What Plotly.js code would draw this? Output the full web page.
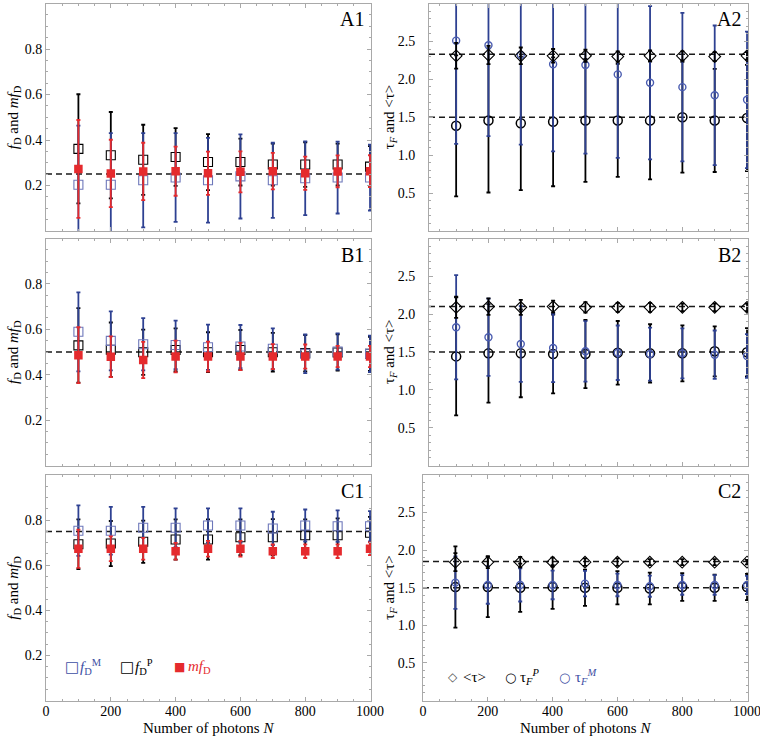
<!DOCTYPE html>
<html>
<head>
<meta charset="utf-8">
<script src="https://cdn.plot.ly/plotly-3.0.1.min.js"></script>
<style>html,body{margin:0;padding:0;background:#fff;}</style>
</head>
<body>
<div id="chart" style="width:760px;height:741px;"></div>
<script>
// ---------- data ----------
const N = [100, 200, 300, 400, 500, 600, 700, 800, 900, 1000];
const xTickLabels = ['0', '200', '400', '600', '800', '1000'];

// Panel A1 (fD)
const fDM_A = [0.203, 0.203, 0.223, 0.235, 0.223, 0.240, 0.223, 0.232, 0.235, 0.235];
const fDM_A_err = [0.260, 0.227, 0.207, 0.195, 0.186, 0.185, 0.165, 0.162, 0.158, 0.145];
const fDP_A = [0.361, 0.333, 0.313, 0.325, 0.303, 0.303, 0.292, 0.292, 0.292, 0.283];
const fDP_A_err = [0.240, 0.190, 0.154, 0.127, 0.123, 0.103, 0.092, 0.098, 0.092, 0.090];
const mfD_A = [0.273, 0.253, 0.262, 0.263, 0.254, 0.260, 0.263, 0.254, 0.262, 0.263];
const mfD_A_err = [0.215, 0.148, 0.126, 0.108, 0.095, 0.090, 0.080, 0.073, 0.070, 0.070];

// Panel B1
const fDM_B = [0.589, 0.549, 0.534, 0.531, 0.521, 0.524, 0.514, 0.492, 0.502, 0.492];
const fDM_B_err = [0.174, 0.130, 0.115, 0.107, 0.100, 0.095, 0.090, 0.085, 0.080, 0.080];
const fDP_B = [0.529, 0.510, 0.499, 0.509, 0.499, 0.509, 0.499, 0.495, 0.498, 0.492];
const fDP_B_err = [0.164, 0.120, 0.100, 0.095, 0.088, 0.088, 0.085, 0.080, 0.080, 0.075];
const mfD_B = [0.486, 0.479, 0.465, 0.480, 0.480, 0.480, 0.480, 0.480, 0.480, 0.480];
const mfD_B_err = [0.123, 0.090, 0.080, 0.070, 0.066, 0.060, 0.055, 0.053, 0.047, 0.047];

// Panel C1
const fDM_C = [0.753, 0.753, 0.766, 0.766, 0.776, 0.776, 0.763, 0.776, 0.773, 0.773];
const fDM_C_err = [0.112, 0.106, 0.093, 0.086, 0.076, 0.076, 0.074, 0.071, 0.070, 0.067];
const fDP_C = [0.693, 0.696, 0.704, 0.714, 0.714, 0.724, 0.724, 0.733, 0.733, 0.744];
const fDP_C_err = [0.110, 0.100, 0.094, 0.089, 0.089, 0.079, 0.080, 0.070, 0.075, 0.070];
const mfD_C = [0.673, 0.673, 0.673, 0.662, 0.673, 0.673, 0.662, 0.662, 0.662, 0.673];
const mfD_C_err = [0.085, 0.055, 0.048, 0.037, 0.035, 0.035, 0.030, 0.030, 0.030, 0.028];

// Panel A2 (tau)
const tauAvg_A = [2.31, 2.32, 2.31, 2.31, 2.31, 2.30, 2.31, 2.31, 2.30, 2.31];
const tauAvg_A_err = [0.17, 0.12, 0.11, 0.09, 0.08, 0.07, 0.07, 0.06, 0.06, 0.05];
const tauP_A = [1.387, 1.458, 1.420, 1.440, 1.458, 1.458, 1.458, 1.500, 1.458, 1.490];
const tauP_A_err = [0.93, 0.95, 0.88, 0.85, 0.81, 0.745, 0.776, 0.73, 0.68, 0.70];
const tauM_A = [2.51, 2.45, 2.32, 2.20, 2.19, 2.065, 1.955, 1.897, 1.79, 1.73];
const tauM_A_err = [1.36, 1.20, 1.18, 1.15, 1.17, 1.10, 1.01, 0.98, 0.92, 0.90];

// Panel B2
const tauAvg_B = [2.09, 2.10, 2.09, 2.10, 2.09, 2.09, 2.09, 2.09, 2.09, 2.09];
const tauAvg_B_err = [0.14, 0.11, 0.10, 0.08, 0.07, 0.06, 0.06, 0.05, 0.05, 0.05];
const tauP_B = [1.442, 1.482, 1.482, 1.473, 1.473, 1.490, 1.482, 1.482, 1.509, 1.496];
const tauP_B_err = [0.78, 0.65, 0.58, 0.52, 0.45, 0.42, 0.385, 0.37, 0.33, 0.32];
const tauM_B = [1.827, 1.695, 1.606, 1.553, 1.509, 1.490, 1.473, 1.482, 1.464, 1.447];
const tauM_B_err = [0.69, 0.51, 0.50, 0.45, 0.40, 0.36, 0.35, 0.33, 0.32, 0.29];

// Panel C2
const tauAvg_C = [1.84, 1.84, 1.84, 1.84, 1.84, 1.84, 1.84, 1.84, 1.84, 1.84];
const tauAvg_C_err = [0.12, 0.08, 0.07, 0.06, 0.05, 0.05, 0.04, 0.04, 0.04, 0.03];
const tauP_C = [1.51, 1.51, 1.50, 1.51, 1.50, 1.50, 1.49, 1.51, 1.50, 1.51];
const tauP_C_err = [0.54, 0.40, 0.32, 0.29, 0.24, 0.22, 0.21, 0.185, 0.175, 0.175];
const tauM_C = [1.568, 1.537, 1.537, 1.537, 1.555, 1.537, 1.520, 1.537, 1.537, 1.537];
const tauM_C_err = [0.35, 0.25, 0.22, 0.19, 0.17, 0.15, 0.14, 0.13, 0.13, 0.12];

// reference (dashed) levels
const refLeft = [0.25, 0.50, 0.75];
const refRightA = [1.5, 2.33];
const refRightB = [1.5, 2.10];
const refRightC = [1.5, 1.85];

const panelLabels = ['A1', 'A2', 'B1', 'B2', 'C1', 'C2'];
const yTickLeft = [0.2, 0.4, 0.6, 0.8];
const yTickRight = [0.5, 1.0, 1.5, 2.0, 2.5];

// ---------- styles ----------
const W = 760, H = 741;
const BLUE = '#2e4192', BLUE_MK = '#6d77ba', RED = '#e52a2d', BLACK = '#000000';
const FONT = 'Liberation Serif';

const sty = {
  fDM: {sym: 'square-open', size: 9, mc: BLUE_MK, lw: 1.1, ec: BLUE},
  fDP: {sym: 'square-open', size: 9, mc: BLACK, lw: 1.1, ec: BLACK},
  mfD: {sym: 'square', size: 8.5, mc: RED, lw: 0, ec: RED},
  tAvg: {sym: 'diamond-open', size: 9, mc: BLACK, lw: 1.1, ec: BLACK},
  tP: {sym: 'circle-open', size: 9, mc: BLACK, lw: 1.5, ec: BLACK},
  tM: {sym: 'circle-open', size: 7, mc: '#4a5cb0', lw: 1.4, ec: BLUE}
};

function sfx(k) { return k === 1 ? '' : String(k); }

function tr(y, err, s, k) {
  return {
    type: 'scatter', mode: 'markers', x: N, y: y,
    xaxis: 'x' + sfx(k), yaxis: 'y' + sfx(k),
    marker: {symbol: s.sym, size: s.size, color: s.mc, line: {color: s.mc, width: s.lw}},
    error_y: {type: 'data', array: err, visible: true, color: s.ec, thickness: 1.8, width: 2},
    showlegend: false, hoverinfo: 'x+y'
  };
}

const data = [
  tr(fDP_A, fDP_A_err, sty.fDP, 1), tr(fDM_A, fDM_A_err, sty.fDM, 1), tr(mfD_A, mfD_A_err, sty.mfD, 1),
  tr(tauP_A, tauP_A_err, sty.tP, 2), tr(tauM_A, tauM_A_err, sty.tM, 2), tr(tauAvg_A, tauAvg_A_err, sty.tAvg, 2),
  tr(fDP_B, fDP_B_err, sty.fDP, 3), tr(fDM_B, fDM_B_err, sty.fDM, 3), tr(mfD_B, mfD_B_err, sty.mfD, 3),
  tr(tauP_B, tauP_B_err, sty.tP, 4), tr(tauM_B, tauM_B_err, sty.tM, 4), tr(tauAvg_B, tauAvg_B_err, sty.tAvg, 4),
  tr(fDP_C, fDP_C_err, sty.fDP, 5), tr(fDM_C, fDM_C_err, sty.fDM, 5), tr(mfD_C, mfD_C_err, sty.mfD, 5),
  tr(tauP_C, tauP_C_err, sty.tP, 6), tr(tauM_C, tauM_C_err, sty.tM, 6), tr(tauAvg_C, tauAvg_C_err, sty.tAvg, 6)
];

// ---------- layout ----------
const FRAME = '#a9a9a9';
const rowsPx = [[3.5, 231], [238.5, 465.5], [475, 700.5]];
const colsPx = [[46, 371], [429, 748]];
const c2Left = 423;

function ydom(r) { return [1 - rowsPx[r][1] / H, 1 - rowsPx[r][0] / H]; }

function baseAx() {
  return {
    showline: true, linecolor: FRAME, linewidth: 1, mirror: 'allticks',
    ticks: 'inside', ticklen: 4, tickwidth: 1, tickcolor: FRAME,
    showgrid: false, zeroline: false, fixedrange: true, automargin: false,
    ticklabeloverflow: 'allow',
    tickfont: {family: FONT, size: 14, color: '#000'}
  };
}

const layout = {
  width: W, height: H, margin: {l: 0, r: 0, t: 0, b: 0, pad: 0},
  paper_bgcolor: '#fff', plot_bgcolor: '#fff', showlegend: false,
  font: {family: FONT, size: 14, color: '#000'},
  shapes: [], annotations: []
};

for (let k = 1; k <= 6; k++) {
  const r = Math.floor((k - 1) / 2), c = (k - 1) % 2;
  const xa = baseAx(), ya = baseAx();
  let xl = colsPx[c][0], xr = colsPx[c][1];
  let x0 = 0;
  if (c === 1 && r === 2) xl = c2Left;
  if (c === 1 && r < 2) x0 = 16;
  xa.domain = [xl / W, xr / W];
  xa.range = [x0, 1003];
  xa.tickmode = 'array';
  xa.tickvals = [0, 200, 400, 600, 800, 1000];
  xa.ticktext = xTickLabels;
  xa.minor = {tickmode: 'linear', tick0: 0, dtick: 50, ticks: 'inside', ticklen: 2, tickcolor: FRAME, showgrid: false};
  xa.showticklabels = (r === 2);
  xa.ticklabelstandoff = -2;
  xa.anchor = 'y' + sfx(k);
  ya.domain = ydom(r);
  ya.anchor = 'x' + sfx(k);
  if (c === 0) {
    ya.range = [0, 1.0];
    ya.tickmode = 'array'; ya.tickvals = yTickLeft; ya.ticktext = yTickLeft.map(v => v.toFixed(1));
    ya.minor = {tickmode: 'linear', tick0: 0, dtick: 0.05, ticks: 'inside', ticklen: 2, tickcolor: FRAME, showgrid: false};
  } else {
    ya.range = [0, 3.0];
    ya.tickmode = 'array'; ya.tickvals = yTickRight; ya.ticktext = yTickRight.map(v => v.toFixed(1));
    ya.minor = {tickmode: 'linear', tick0: 0, dtick: 0.1, ticks: 'inside', ticklen: 2, tickcolor: FRAME, showgrid: false};
    ya.ticklabelstandoff = r < 2 ? 10 : 4;
  }
  layout['xaxis' + sfx(k)] = xa;
  layout['yaxis' + sfx(k)] = ya;

  // dashed reference lines
  const refs = c === 0 ? [refLeft[r]] : [refRightA, refRightB, refRightC][r];
  refs.forEach(v => layout.shapes.push({
    type: 'line', xref: 'x' + sfx(k) + ' domain', x0: 0, x1: 1,
    yref: 'y' + sfx(k), y0: v, y1: v,
    line: {color: '#1a1a1a', width: 1.5, dash: '6px,4px'}, layer: 'below'
  }));

  // panel label
  layout.annotations.push({
    xref: 'paper', yref: 'paper', x: (xr - 5) / W, y: 1 - (rowsPx[r][0] + 16) / H,
    xanchor: 'right', yanchor: 'middle', showarrow: false,
    text: panelLabels[k - 1], font: {family: FONT, size: 20, color: '#000'}
  });

  // y-axis title
  const yc = 1 - (rowsPx[r][0] + rowsPx[r][1]) / 2 / H;
  layout.annotations.push({
    xref: 'paper', yref: 'paper', x: (c === 0 ? 14 : 390) / W, y: yc,
    xanchor: 'center', yanchor: 'middle', textangle: -90, showarrow: false,
    text: c === 0 ? '<i>f</i><sub>D</sub> and <i>mf</i><sub>D</sub>' : 'τ<sub><i>F</i></sub> and &lt;τ&gt;',
    font: {family: FONT, size: 15, color: '#000'}
  });
}

// x-axis titles
[[46, 371], [c2Left, 748]].forEach(p => layout.annotations.push({
  xref: 'paper', yref: 'paper', x: (p[0] + p[1]) / 2 / W, y: 1 - 728 / H,
  xanchor: 'center', yanchor: 'middle', showarrow: false,
  text: 'Number of photons <i>N</i>', font: {family: FONT, size: 15, color: '#000'}
}));

// legends (C1 and C2 panels)
function legItem(sym, symColor, symX, text, textColor, textX, y, symSize) {
  layout.annotations.push({xref: 'paper', yref: 'paper', x: symX / W, y: 1 - y / H, xanchor: 'center', yanchor: 'middle',
    showarrow: false, text: sym, font: {family: 'DejaVu Sans', size: symSize, color: symColor}});
  layout.annotations.push({xref: 'paper', yref: 'paper', x: textX / W, y: 1 - y / H, xanchor: 'left', yanchor: 'middle',
    showarrow: false, text: text, font: {family: FONT, size: 15, color: textColor}});
}
legItem('□', '#3d4ea3', 72, '<i>f</i><sub>D</sub><sup>M</sup>', '#3d4ea3', 78, 667, 15);
legItem('□', '#000', 127, '<i>f</i><sub>D</sub><sup>P</sup>', '#000', 133, 667, 15);
legItem('■', RED, 179, '<i>mf</i><sub>D</sub>', RED, 186, 667, 12);
legItem('◇', '#555', 453, '&lt;τ&gt;', '#000', 461, 677, 12);
legItem('○', '#000', 510, 'τ<sub><i>F</i></sub><sup><i>P</i></sup>', '#000', 518, 677, 13);
legItem('○', '#3d4ea3', 564, 'τ<sub><i>F</i></sub><sup><i>M</i></sup>', '#3d4ea3', 573, 677, 13);

Plotly.newPlot('chart', data, layout, {displayModeBar: false, staticPlot: true});
</script>
</body>
</html>
